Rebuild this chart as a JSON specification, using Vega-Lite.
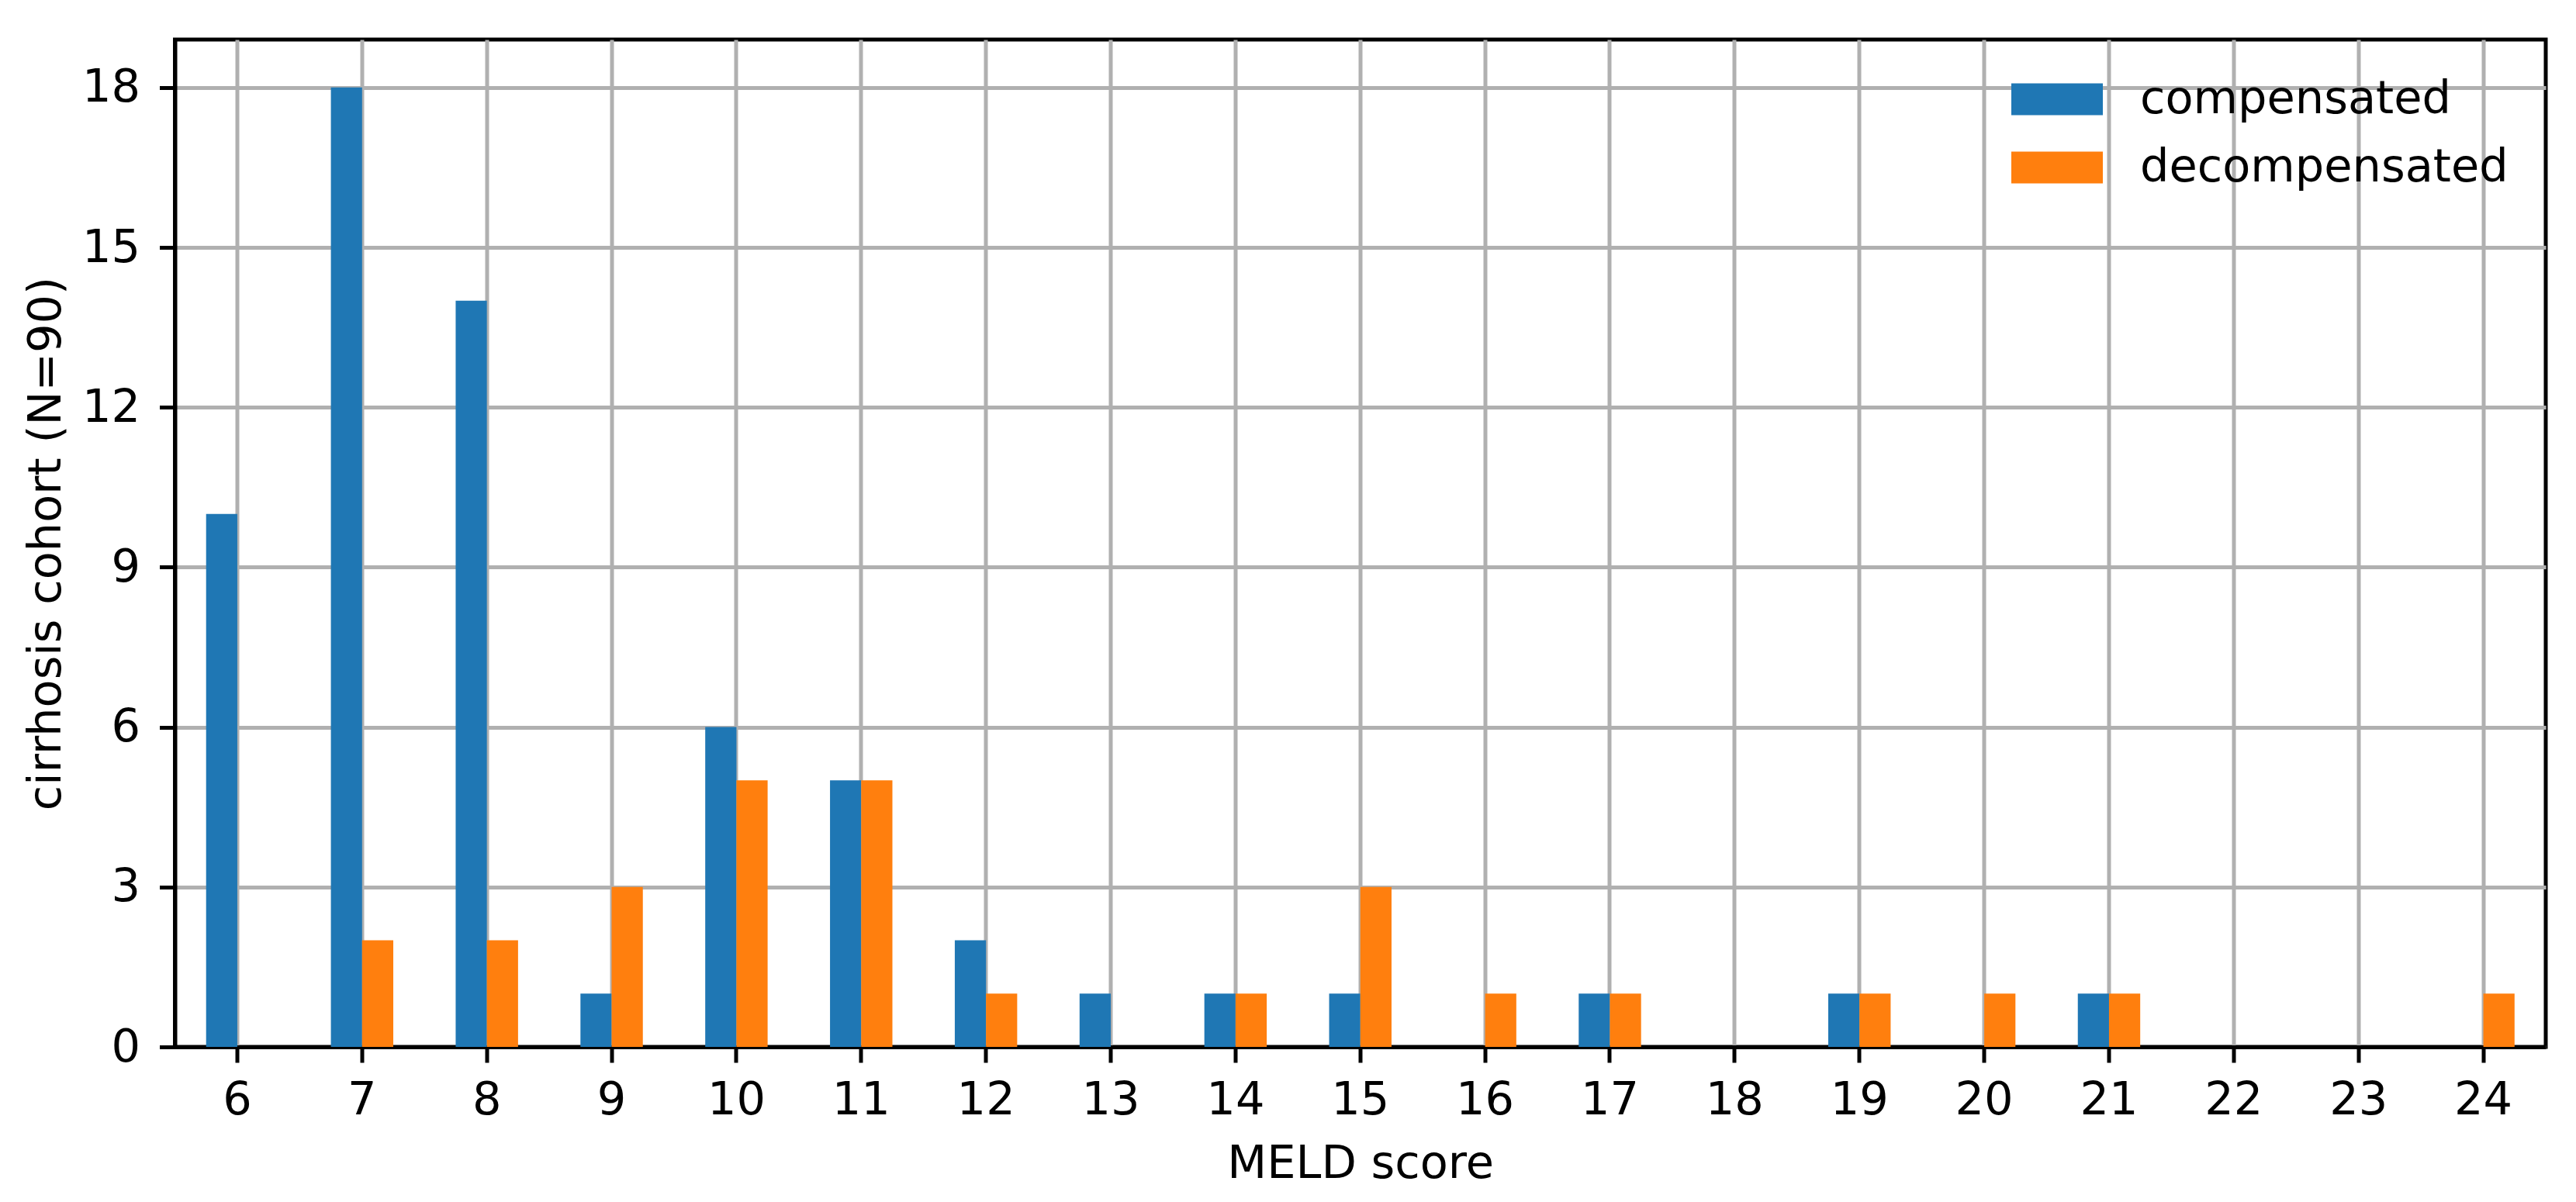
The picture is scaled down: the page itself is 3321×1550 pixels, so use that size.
{
  "$schema": "https://vega.github.io/schema/vega-lite/v6.json",
  "width": 3056.5,
  "height": 1299,
  "autosize": {"type": "none"},
  "padding": {"left": 225.5, "top": 51, "right": 39, "bottom": 200},
  "background": "white",
  "config": {
    "font": "DejaVu Sans",
    "view": {"stroke": "black", "strokeWidth": 5},
    "axis": {
      "domainColor": "black",
      "domainWidth": 5,
      "tickColor": "black",
      "tickWidth": 5,
      "tickSize": 20,
      "grid": true,
      "gridColor": "#b0b0b0",
      "gridWidth": 5,
      "gridOpacity": 1,
      "labelFont": "DejaVu Sans",
      "labelFontSize": 59,
      "labelColor": "black",
      "titleFont": "DejaVu Sans",
      "titleFontSize": 59,
      "titleFontWeight": "normal",
      "titleColor": "black",
      "zindex": 1
    }
  },
  "data": {
    "values": [
      {"meld": 6, "group": "compensated", "count": 10},
      {"meld": 6, "group": "decompensated", "count": 0},
      {"meld": 7, "group": "compensated", "count": 18},
      {"meld": 7, "group": "decompensated", "count": 2},
      {"meld": 8, "group": "compensated", "count": 14},
      {"meld": 8, "group": "decompensated", "count": 2},
      {"meld": 9, "group": "compensated", "count": 1},
      {"meld": 9, "group": "decompensated", "count": 3},
      {"meld": 10, "group": "compensated", "count": 6},
      {"meld": 10, "group": "decompensated", "count": 5},
      {"meld": 11, "group": "compensated", "count": 5},
      {"meld": 11, "group": "decompensated", "count": 5},
      {"meld": 12, "group": "compensated", "count": 2},
      {"meld": 12, "group": "decompensated", "count": 1},
      {"meld": 13, "group": "compensated", "count": 1},
      {"meld": 13, "group": "decompensated", "count": 0},
      {"meld": 14, "group": "compensated", "count": 1},
      {"meld": 14, "group": "decompensated", "count": 1},
      {"meld": 15, "group": "compensated", "count": 1},
      {"meld": 15, "group": "decompensated", "count": 3},
      {"meld": 16, "group": "compensated", "count": 0},
      {"meld": 16, "group": "decompensated", "count": 1},
      {"meld": 17, "group": "compensated", "count": 1},
      {"meld": 17, "group": "decompensated", "count": 1},
      {"meld": 18, "group": "compensated", "count": 0},
      {"meld": 18, "group": "decompensated", "count": 0},
      {"meld": 19, "group": "compensated", "count": 1},
      {"meld": 19, "group": "decompensated", "count": 1},
      {"meld": 20, "group": "compensated", "count": 0},
      {"meld": 20, "group": "decompensated", "count": 1},
      {"meld": 21, "group": "compensated", "count": 1},
      {"meld": 21, "group": "decompensated", "count": 1},
      {"meld": 22, "group": "compensated", "count": 0},
      {"meld": 22, "group": "decompensated", "count": 0},
      {"meld": 23, "group": "compensated", "count": 0},
      {"meld": 23, "group": "decompensated", "count": 0},
      {"meld": 24, "group": "compensated", "count": 0},
      {"meld": 24, "group": "decompensated", "count": 1}
    ]
  },
  "mark": {"type": "bar", "opacity": 1},
  "encoding": {
    "x": {
      "field": "meld",
      "type": "ordinal",
      "title": "MELD score",
      "scale": {"paddingInner": 0.5, "paddingOuter": 0.25},
      "axis": {"labelAngle": 0, "labelPadding": 19, "titlePadding": 23, "grid": true, "tickBand": "center"}
    },
    "xOffset": {
      "field": "group",
      "type": "nominal",
      "scale": {"paddingInner": 0, "paddingOuter": 0}
    },
    "y": {
      "field": "count",
      "type": "quantitative",
      "title": "cirrhosis cohort (N=90)",
      "scale": {"domain": [0, 18.9], "nice": false},
      "axis": {"values": [0, 3, 6, 9, 12, 15, 18], "labelPadding": 25, "titlePadding": 28, "titleBaseline": "alphabetic"}
    },
    "color": {
      "field": "group",
      "type": "nominal",
      "scale": {"domain": ["compensated", "decompensated"], "range": ["#1f77b4", "#ff7f0e"]},
      "legend": {
        "orient": "none",
        "legendX": 2383.5,
        "legendY": 34,
        "title": null,
        "padding": 0,
        "rowPadding": 15,
        "symbolType": "M-1.372,-0.477H1.372V0.477H-1.372Z",
        "symbolSize": 7396,
        "symbolStrokeWidth": 0,
        "symbolOpacity": 1,
        "labelFont": "DejaVu Sans",
        "labelFontSize": 59,
        "labelColor": "black",
        "labelOffset": 64,
        "labelLimit": 0
      }
    }
  }
}
